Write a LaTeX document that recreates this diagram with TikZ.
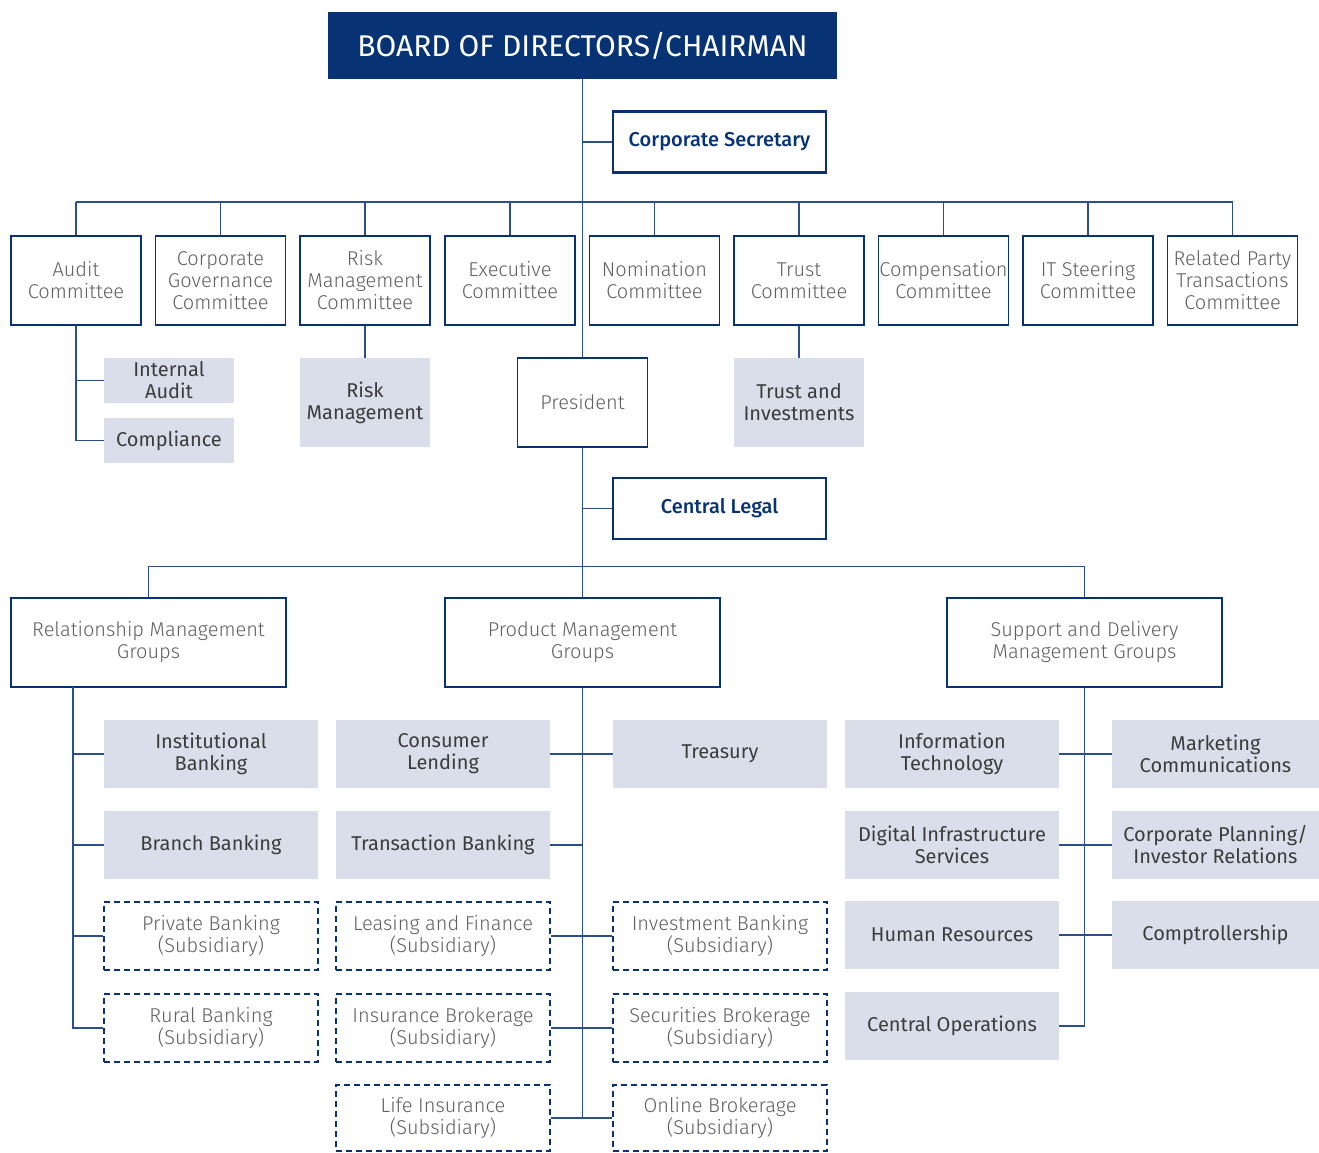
\documentclass[tikz,border=0pt]{standalone}
\usepackage{fontspec}
\usepackage{tikz}
\setmainfont{Fira Sans}
\newfontfamily\lt{Fira Sans Light}
\newfontfamily\md{Fira Sans Medium}
\definecolor{navy}{RGB}{7,51,116}
\definecolor{wire}{RGB}{44,79,140}
\definecolor{pale}{RGB}{218,222,235}
\definecolor{grey}{RGB}{96,96,96}
\definecolor{ink}{RGB}{60,60,60}
\def\txt{\fontsize{20}{22}\selectfont}

\tikzset{
  comm/.style={draw=navy, line width=1.3pt, fill=white, text=grey, align=center,
    minimum width=130pt, minimum height=89pt, inner sep=0pt, font=\lt\txt},
  grp/.style={comm, minimum width=275pt},
  sub/.style={fill=pale, text=ink, align=center, minimum width=130pt,
    minimum height=89pt, inner sep=0pt, font=\txt},
  unit/.style={sub, minimum width=214pt, minimum height=68pt},
  subsid/.style={draw=navy, line width=1.8pt, dash pattern=on 6pt off 4pt, fill=white,
    text=grey, align=center, minimum width=214pt, minimum height=68pt,
    inner sep=0pt, font=\lt\txt},
  key/.style={draw=navy, line width=2.5pt, fill=white, text=navy, align=center,
    minimum width=213pt, minimum height=61pt, font=\md\txt},
  link/.style={draw=wire, line width=1.5pt}
}

\begin{document}
\begin{tikzpicture}[x=1pt,y=-1pt]
\useasboundingbox (0,0) rectangle (1319,1153);

% top
\node[fill=navy, text=white, minimum width=509pt, minimum height=67pt,
  font=\fontsize{30}{34}\selectfont] (board) at (582.5,45.5) {BOARD OF DIRECTORS/CHAIRMAN};
\node[key] (csec) at (719.5,142) {Corporate Secretary};
\node[comm] (pres) at (582.5,402.5) {President};
\node[key] (legal) at (719.5,508.5) {Central Legal};

% committees
\coordinate (cbar) at (0,202);
\foreach \n/\x/\t in {audit/76/{Audit\\Committee}, gov/220.5/{Corporate\\Governance\\Committee},
  risk/365/{Risk\\Management\\Committee}, exec/510/{Executive\\Committee},
  nom/654.5/{Nomination\\Committee}, trust/799/{Trust\\Committee},
  pay/943.5/{Compensation\\Committee}, its/1088/{IT Steering\\Committee},
  rpt/1232.5/{Related Party\\Transactions\\Committee}}{
  \node[comm] (\n) at (\x,280.5) {\t};
  \draw[link] (\n.north) -- (\n.north |- cbar);
}
\draw[link] (audit.north |- cbar) -- (rpt.north |- cbar);

\node[sub, minimum height=45pt] (iaudit) at (169,380.5) {Internal\\Audit};
\node[sub, minimum height=45pt] (compl) at (169,440.5) {Compliance};
\node[sub] (riskm) at (365,402.5) {Risk\\Management};
\node[sub] (trinv) at (799,402.5) {Trust and\\Investments};

\draw[link] (audit.south) |- (compl.west);
\draw[link] (iaudit.west) -- (iaudit.west -| audit.south);
\draw[link] (risk.south) -- (riskm.north);
\draw[link] (trust.south) -- (trinv.north);

\draw[link] (board.south) -- (pres.north);
\draw[link] (csec.west) -- (csec.west -| board.south);
\draw[link] (pres.south) -- ++(0,151);
\draw[link] (legal.west) -- (legal.west -| pres.south);

% groups
\node[grp] (rmg) at (148.5,642.5) {Relationship Management\\Groups};
\node[grp] (pmg) at (582.5,642.5) {Product Management\\Groups};
\node[grp] (sdmg) at (1084.5,642.5) {Support and Delivery\\Management Groups};
\draw[link] (rmg.north) -- ++(0,-31) -| (sdmg.north);

% relationship management
\coordinate (rl) at (73,687);
\node[unit] (inst) at (211,754) {Institutional\\Banking};
\node[unit] (branch) at (211,845) {Branch Banking};
\node[subsid] (priv) at (211,936) {Private Banking\\(Subsidiary)};
\node[subsid] (rural) at (211,1028) {Rural Banking\\(Subsidiary)};
\draw[link] (rl) |- (rural.west);
\foreach \n in {inst, branch, priv}
  \draw[link] (\n.west) -- (\n.west -| rl);

% product management
\node[unit] (cons) at (443,754) {Consumer\\Lending};
\node[unit] (trans) at (443,845) {Transaction Banking};
\node[subsid] (lease) at (443,936) {Leasing and Finance\\(Subsidiary)};
\node[subsid] (insur) at (443,1028) {Insurance Brokerage\\(Subsidiary)};
\node[subsid, minimum height=66pt] (life) at (443,1118) {Life Insurance\\(Subsidiary)};
\node[unit] (treas) at (720,754) {Treasury};
\node[subsid] (invb) at (720,936) {Investment Banking\\(Subsidiary)};
\node[subsid] (secb) at (720,1028) {Securities Brokerage\\(Subsidiary)};
\node[subsid, minimum height=66pt] (online) at (720,1118) {Online Brokerage\\(Subsidiary)};
\draw[link] (pmg.south) -- (pmg.south |- life.east);
\draw[link] (cons.east) -- (treas.west);
\draw[link] (trans.east) -- (trans.east -| pmg.south);
\draw[link] (lease.east) -- (invb.west);
\draw[link] (insur.east) -- (secb.west);
\draw[link] (life.east) -- (online.west);

% support and delivery
\node[unit] (it) at (952,754) {Information\\Technology};
\node[unit] (digi) at (952,845) {Digital Infrastructure\\Services};
\node[unit] (hr) at (952,935) {Human Resources};
\node[unit] (ops) at (952,1026) {Central Operations};
\node[unit, minimum width=207pt] (mkt) at (1215.5,754) {Marketing\\Communications};
\node[unit, minimum width=207pt] (plan) at (1215.5,845) {Corporate Planning/\\Investor Relations};
\node[unit, minimum width=207pt] (ctrl) at (1215.5,935) {Comptrollership};
\draw[link] (sdmg.south) |- (ops.east);
\draw[link] (it.east) -- (mkt.west);
\draw[link] (digi.east) -- (plan.west);
\draw[link] (hr.east) -- (ctrl.west);
\end{tikzpicture}
\end{document}
